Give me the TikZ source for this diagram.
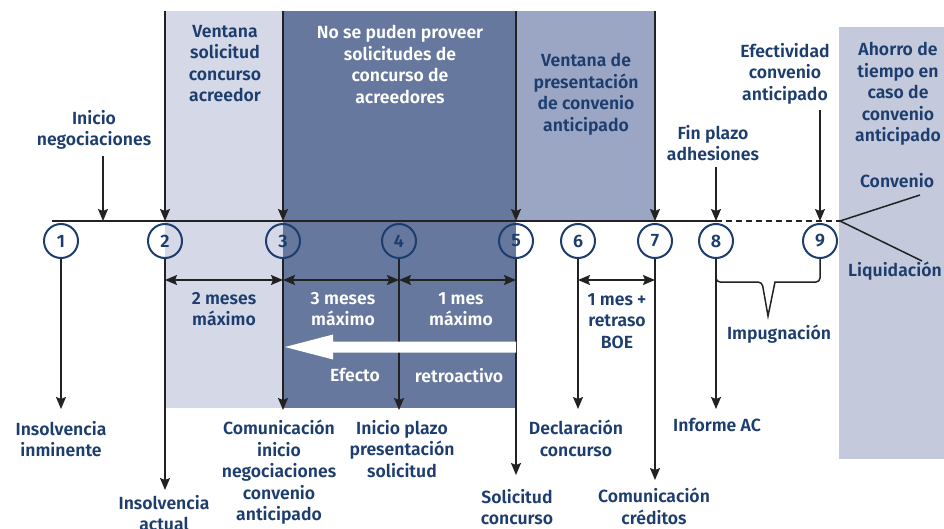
\documentclass[tikz,border=0pt]{standalone}
\usepackage{fontspec}
\setmainfont{Fira Sans SemiBold}
\usetikzlibrary{arrows.meta}
\definecolor{txt}{HTML}{1C3D6E}
\definecolor{bandA}{HTML}{D5D8E6}
\definecolor{bandB}{HTML}{66789D}
\definecolor{bandC}{HTML}{9AA6C4}
\definecolor{bandD}{HTML}{C4C9DB}
\definecolor{ln}{HTML}{222222}
\begin{document}
\begin{tikzpicture}[x=1pt,y=-1pt,
  lbl/.style={font=\fontsize{17.6}{21.5}\selectfont, text=txt, align=center, inner sep=0pt, anchor=north},
  wlbl/.style={lbl, text=white},
  num/.style={circle, draw=txt, line width=2pt, minimum size=34pt, inner sep=0pt, font=\fontsize{18}{18}\selectfont, text=txt},
  arr/.style={draw=ln, line width=1.5pt, -{Stealth[length=12pt,width=10pt,inset=2pt]}},
  darr/.style={draw=ln, line width=1.5pt, {Stealth[length=12pt,width=10pt,inset=2pt]}-{Stealth[length=12pt,width=10pt,inset=2pt]}},
  tl/.style={draw=ln, line width=1.8pt},
  thin/.style={draw=ln, line width=1.5pt}]
\useasboundingbox (0,0) rectangle (944,529);
% bands
\fill[bandA] (165,11) rectangle (283,408);
\fill[bandB] (283,11) rectangle (516,408);
\fill[bandC] (516,11) rectangle (655,221);
\fill[bandD] (839,27) rectangle (944,459);
% timeline
\coordinate (ts) at (52,221);
\coordinate (tm) at (716,221);
\coordinate (te) at (840,221);
\draw[tl] (ts) -- (tm);
\draw[tl, dash pattern=on 6pt off 4pt] (tm) -- (te);
% circles
\node[num] (c1) at (61,241) {1};
\node[num] (c2) at (165,241) {2};
\node[num] (c3) at (283,241) {3};
\node[num] (c4) at (399,241) {4};
\node[num] (c5) at (516,241) {5};
\node[num] (c6) at (578,241) {6};
\node[num] (c7) at (655,241) {7};
\node[num] (c8) at (716,241) {8};
\node[num] (c9) at (820,241) {9};
% top arrows
\coordinate (u0) at (103,156); \coordinate (p0) at (103,221);
\coordinate (u2) at (165,11);  \coordinate (p2) at (165,221);
\coordinate (u3) at (283,11);  \coordinate (p3) at (283,221);
\coordinate (u5) at (516,11);  \coordinate (p5) at (516,221);
\coordinate (u7) at (655,11);  \coordinate (p7) at (655,221);
\coordinate (u8) at (716,167); \coordinate (p8) at (716,221);
\coordinate (u9) at (820,110); \coordinate (p9) at (820,221);
\foreach \i in {0,2,3,5,7,8,9} {\draw[arr] (u\i) -- (p\i);}
% bottom arrows
\coordinate (d1) at (61,409);
\coordinate (d2) at (165,490);
\coordinate (d3) at (283,410);
\coordinate (d4) at (399,410);
\coordinate (d5) at (516,475);
\coordinate (d6) at (578,409);
\coordinate (d7) at (655,480);
\coordinate (d8) at (716,409);
\foreach \i in {1,...,8} {\draw[arr] (c\i.south) -- (d\i);}
% double arrows
\coordinate (a2) at (165,280);
\coordinate (a3) at (283,280);
\coordinate (a4) at (399,280);
\coordinate (a5) at (516,280);
\coordinate (a6) at (578,280);
\coordinate (a7) at (655,280);
\draw[darr] (a2) -- (a3);
\draw[darr] (a3) -- (a4);
\draw[darr] (a4) -- (a5);
\draw[darr] (a6) -- (a7);
% big white arrow
\fill[white] (516,341.5) -- (333,341.5) -- (333,334.5) -- (285,347) -- (333,359.5) -- (333,352.5) -- (516,352.5) -- cycle;
% bracket
\coordinate (b1) at (716,282);
\coordinate (b2) at (762,282);
\coordinate (bt) at (768,316);
\coordinate (b3) at (775,282);
\coordinate (b4) at (820,282);
\draw[thin, rounded corners=4pt] (c8.south) -- (b1) -- (b2) [sharp corners] -- (bt) -- (b3) [rounded corners=4pt] -- (b4) -- (c9.south);
% branch
\coordinate (cv) at (920,195);
\coordinate (lq) at (922,261);
\draw[thin] (te) -- (cv);
\draw[thin] (te) -- (lq);
% labels top
\node[lbl] (tIni) at (94,110) {Inicio\\negociaciones};
\node[lbl] (tVen) at (225,25) {Ventana\\solicitud\\concurso\\acreedor};
\node[wlbl] (tNo) at (400,25) {No se puden proveer\\solicitudes de\\concurso de\\acreedores};
\node[lbl] (tVen2) at (586,53) {Ventana de\\presentación\\de convenio\\anticipado};
\node[lbl] (tEfe) at (785,43) {Efectividad\\convenio\\anticipado};
\node[lbl] (tFin) at (713,125) {Fin plazo\\adhesiones};
\node[lbl] (tAho) at (898,42) {Ahorro de\\tiempo en\\caso de\\convenio\\anticipado};
\node[lbl] (tCon) at (897,173) {Convenio};
\node[lbl, anchor=north west] (tLiq) at (848,262) {Liquidación};
% labels middle
\node[lbl] (m1) at (224,292) {2 meses\\máximo};
\node[wlbl] (m2) at (343,292) {3 meses\\máximo};
\node[wlbl] (m3) at (461,292) {1 mes\\máximo};
\node[lbl] (m4) at (617,293) {1 mes +\\retraso\\BOE};
\node[wlbl] (ef) at (355,368) {Efecto};
\node[wlbl] (re) at (459,368) {retroactivo};
\node[lbl] (imp) at (779,325) {Impugnación};
% labels bottom
\node[lbl] (b1l) at (61,421) {Insolvencia\\inminente};
\node[lbl] (b2l) at (164,495) {Insolvencia\\actual};
\node[lbl] (b3l) at (279,420) {Comunicación\\inicio\\negociaciones\\convenio\\anticipado};
\node[lbl] (b4l) at (402,420) {Inicio plazo\\presentación\\solicitud};
\node[lbl] (b5l) at (517,489) {Solicitud\\concurso};
\node[lbl] (b6l) at (576,420) {Declaración\\concurso};
\node[lbl] (b7l) at (654,488) {Comunicación\\créditos};
\node[lbl] (b8l) at (717,418) {Informe AC};
\end{tikzpicture}
\end{document}
